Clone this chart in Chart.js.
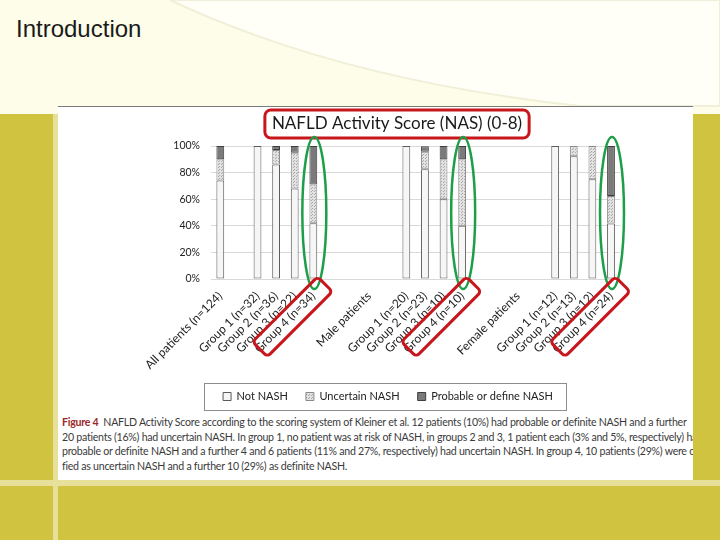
<!DOCTYPE html>
<html>
<head>
<meta charset="utf-8">
<script src="https://cdn.jsdelivr.net/npm/chart.js@4.4.1/dist/chart.umd.min.js"></script>
<style>
  html, body { margin: 0; padding: 0; }
  body { width: 720px; height: 540px; position: relative; overflow: hidden; background: #cfc33f; font-family: Lato, "Open Sans", sans-serif; }
  .top { position: absolute; left: 0; top: 0; width: 720px; height: 114px; background: #fdfde9; }
  .top svg { position: absolute; left: 0; top: 0; }
  .vstripe { position: absolute; left: 53px; top: 114px; width: 5px; height: 426px; background: #e6e09a; }
  .hstripe { position: absolute; left: 0; top: 480px; width: 720px; height: 6px; background: #e6e09a; }
  .sheet { position: absolute; left: 58px; top: 106px; width: 635px; height: 374px; background: #fff; border-top: 1.5px solid #7a7a7a; box-sizing: border-box; }
  h1 { position: absolute; left: 16px; top: 15px; margin: 0; font-family: "Liberation Sans", Arial, sans-serif; font-weight: normal; font-size: 24px; color: #1a1a1a; }
  #wrap { position: absolute; left: 140px; top: 107px; width: 500px; height: 305px; }
  .caption { position: absolute; left: 62px; top: 415px; width: 631px; overflow: hidden; font-family: Lato, sans-serif; font-size: 10.6px; line-height: 14.5px; color: #3a3a3a; letter-spacing: -0.25px; }
  .caption div { white-space: nowrap; }
  .caption b { color: #9b2a2a; font-weight: bold; }
</style>
</head>
<body>
<div class="top">
  <svg width="720" height="114"><path d="M170,0 Q340,80 580,106 L720,106 L720,0 Z" fill="#fffff8" stroke="#f0efd8" stroke-width="2"/></svg>
</div>
<div class="vstripe"></div>
<div class="hstripe"></div>
<div class="sheet"></div>
<h1>Introduction</h1>
<div id="wrap"><canvas id="chartNas"></canvas></div>
<div class="caption">
  <div><b>Figure 4</b>&nbsp; NAFLD Activity Score according to the scoring system of Kleiner et al. 12 patients (10%) had probable or definite NASH and a further</div>
  <div>20 patients (16%) had uncertain NASH. In group 1, no patient was at risk of NASH, in groups 2 and 3, 1 patient each (3% and 5%, respectively) had</div>
  <div>probable or definite NASH and a further 4 and 6 patients (11% and 27%, respectively) had uncertain NASH. In group 4, 10 patients (29%) were classi-</div>
  <div>fied as uncertain NASH and a further 10 (29%) as definite NASH.</div>
</div>
<script>
const categorias = [
    'All patients (n=124)', '',
    'Group 1 (n=32)', 'Group 2 (n=36)', 'Group 3 (n=22)', 'Group 4 (n=34)', '', '',
    'Male patients', '',
    'Group 1 (n=20)', 'Group 2 (n=23)', 'Group 3 (n=10)', 'Group 4 (n=10)', '', '',
    'Female patients', '',
    'Group 1 (n=12)', 'Group 2 (n=13)', 'Group 3 (n=12)', 'Group 4 (n=24)'
];
const notNash       = [74, null, 100, 86, 68, 42, null, null, null, null, 100, 82.6, 60, 40, null, null, null, null, 100, 92.3, 75, 41.7];
const uncertainNash = [16, null, 0, 11, 27, 29, null, null, null, null, 0, 13, 30, 50, null, null, null, null, 0, 7.7, 25, 20.8];
const probableNash  = [10, null, 0, 3, 5, 29, null, null, null, null, 0, 4.3, 10, 10, null, null, null, null, 0, 0, 0, 37.5];
const yTicks = [0, 20, 40, 60, 80, 100];
const group4Index = [5, 13, 21];

// dotted fill for "uncertain"
function patronPuntos() {
    const c = document.createElement('canvas');
    c.width = 3; c.height = 3;
    const g = c.getContext('2d');
    g.fillStyle = '#e2e2e2';
    g.fillRect(0, 0, 3, 3);
    g.fillStyle = '#a8a8a8';
    g.fillRect(0, 0, 1, 1);
    g.fillRect(1, 2, 1, 1);
    return g.createPattern(c, 'repeat');
}

const marcas = {
    id: 'marcas',
    afterLayout(chart) {
        // legend sits a bit left of the title in the original
        chart.legend.left -= 9;
        chart.legend.right -= 9;
    },
    afterDraw(chart) {
        const ctx = chart.ctx;
        const x = chart.scales.x, y = chart.scales.y;
        ctx.save();

        // red box round the title
        const tb = chart.titleBlock;
        ctx.font = '17px Lato';
        const tw = ctx.measureText(chart.options.plugins.title.text).width;
        const cx = tb.left + tb.width / 2;
        const ty = tb.top + tb.options.padding.top + 10.2;
        ctx.strokeStyle = '#c8161d';
        ctx.lineWidth = 3;
        ctx.beginPath();
        ctx.roundRect(cx - tw / 2 - 7, ty - 14, tw + 14, 28, 6);
        ctx.stroke();

        group4Index.forEach(i => {
            const px = x.getPixelForValue(i);
            // green ellipse round the bar
            ctx.strokeStyle = '#1d9e48';
            ctx.lineWidth = 2.5;
            ctx.beginPath();
            const top = y.getPixelForValue(100) - 9, bot = y.getPixelForValue(0) + 10;
            ctx.ellipse(px + 1, (top + bot) / 2, 12, (bot - top) / 2, 0, 0, Math.PI * 2);
            ctx.stroke();
            // red box round the Group 4 label
            ctx.save();
            ctx.translate(px, y.bottom + 2);
            ctx.rotate(-Math.PI / 4);
            ctx.strokeStyle = '#c8161d';
            ctx.lineWidth = 3;
            ctx.beginPath();
            ctx.roundRect(-86, 0, 92, 21, 4);
            ctx.stroke();
            ctx.restore();
        });

        // frame round the legend
        const hb = chart.legend.legendHitBoxes;
        if (hb.length) {
            const l = hb[0].left - 19, r = hb[hb.length - 1].left + hb[hb.length - 1].width + 13;
            const t = hb[0].top - 8, b = hb[0].top + hb[0].height + 8;
            ctx.strokeStyle = '#8c8c8c';
            ctx.lineWidth = 1;
            ctx.strokeRect(Math.round(l) + 0.5, Math.round(t) + 0.5, Math.round(r - l), Math.round(b - t));
        }
        ctx.restore();
    }
};

const puntos = patronPuntos();

new Chart(document.getElementById('chartNas'), {
    type: 'bar',
    data: {
        labels: categorias,
        datasets: [
            { label: 'Not NASH', data: notNash, backgroundColor: '#f6f6f6', borderColor: '#5a5a5a', borderWidth: 1 },
            { label: 'Uncertain NASH', data: uncertainNash, backgroundColor: puntos, borderColor: '#8a8a8a', borderWidth: 1 },
            { label: 'Probable or define NASH', data: probableNash, backgroundColor: '#7a7a7a', borderColor: '#3e3e3e', borderWidth: 1 }
        ]
    },
    options: {
        responsive: true,
        maintainAspectRatio: false,
        animation: false,
        datasets: { bar: { barPercentage: 0.42, categoryPercentage: 1, borderSkipped: false } },
        layout: { padding: { left: 33.7, right: 19.7, bottom: 0, top: 0 } },
        plugins: {
            title: {
                display: true,
                text: 'NAFLD Activity Score (NAS) (0-8)',
                color: '#1a1a1a',
                font: { family: 'Lato', size: 17, weight: 'normal' },
                padding: { top: 6.8, bottom: 11.8 }
            },
            legend: {
                position: 'bottom',
                labels: {
                    boxWidth: 8, boxHeight: 8, padding: 18,
                    color: '#222',
                    font: { family: 'Lato', size: 11 }
                }
            },
            tooltip: { enabled: false }
        },
        scales: {
            x: {
                stacked: true,
                grid: { display: false },
                border: { display: false },
                ticks: {
                    autoSkip: false, maxRotation: 45, minRotation: 45, padding: 2,
                    color: '#222', font: { family: 'Lato', size: 12 }
                },
                afterFit: s => { s.height = 94; }
            },
            y: {
                stacked: true,
                min: 0, max: 100,
                afterBuildTicks: s => { s.ticks = yTicks.map(v => ({ value: v })); },
                grid: { color: '#d9d9d9', drawTicks: false },
                border: { display: false },
                ticks: {
                    padding: 11, color: '#222',
                    font: { family: 'Lato', size: 10.5 },
                    callback: v => v + '%'
                },
                afterFit: s => { s.width = 37.3; }
            }
        }
    },
    plugins: [marcas]
});
</script>
</body>
</html>
